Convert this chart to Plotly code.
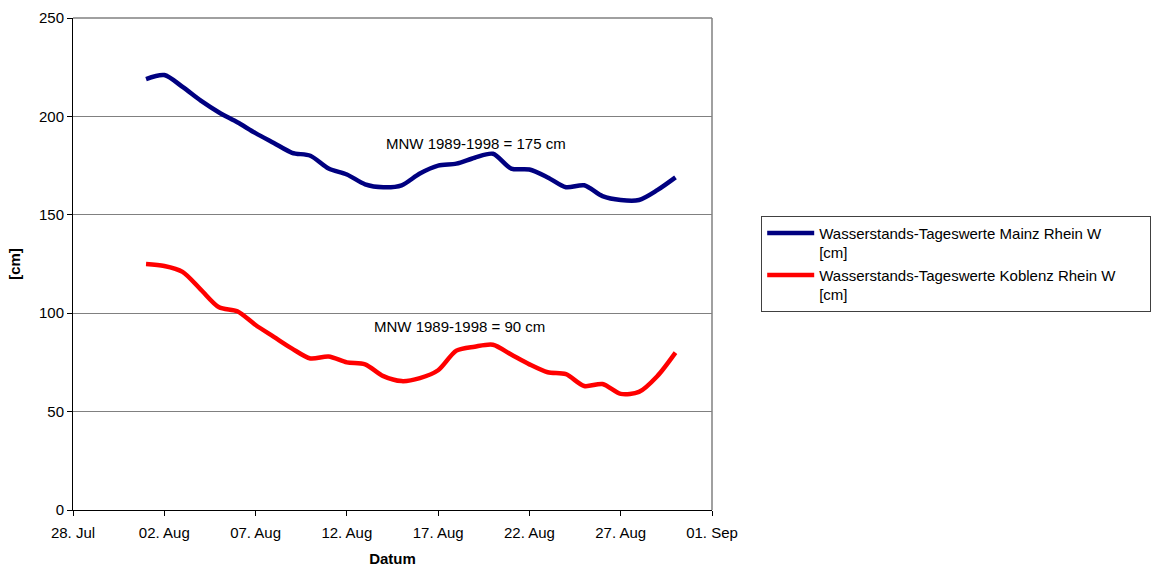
import plotly.graph_objects as go
import pandas as pd

# Daily water levels, August 2003
dates = pd.date_range("2003-08-01", "2003-08-30", freq="D")
mainz = [219, 221, 215, 208, 202, 197, 191.5, 186.5, 181.5, 180,
         173.5, 170.5, 165.5, 164, 165, 171, 175, 176, 179, 181,
         173.5, 173, 169, 164, 165, 159.5, 157.5, 157.5, 162.5, 169]
koblenz = [125, 124, 121, 112, 103, 101, 94, 88, 82, 77,
           78, 75, 74, 68, 65.5, 67, 71, 81, 83, 84,
           79, 74, 70, 69, 63, 64, 59, 60, 68, 80]

# trailing non-breaking spaces widen the legend box toward the right edge
pad = "\u00a0" * 7
names = ["Wasserstands-Tageswerte Mainz Rhein W<br>[cm]",
         "Wasserstands-Tageswerte Koblenz Rhein W" + pad + "<br>[cm]"]
colors = ["#000080", "#ff0000"]

font = "Liberation Sans, Arial, sans-serif"
fs = 15

fig = go.Figure()
for name, vals, col in zip(names, [mainz, koblenz], colors):
    fig.add_trace(go.Scatter(
        x=dates, y=vals, mode="lines", name=name,
        line=dict(color=col, width=4.5, shape="spline", smoothing=0.8),
    ))

fig.add_annotation(x="2003-08-19 02:00", y=186, text="MNW 1989-1998 = 175 cm",
                   showarrow=False, font=dict(size=fs, color="black", family=font))
fig.add_annotation(x="2003-08-18 04:00", y=93, text="MNW 1989-1998 = 90 cm",
                   showarrow=False, font=dict(size=fs, color="black", family=font))

fig.update_layout(
    width=1155, height=567,
    margin=dict(l=73, r=443, t=18, b=57, autoexpand=False),
    paper_bgcolor="white", plot_bgcolor="white",
    font=dict(family=font, size=fs, color="black"),
    showlegend=True,
    legend=dict(
        x=1.077, y=0.598, xanchor="left", yanchor="top",
        bordercolor="#404040", borderwidth=1, bgcolor="white",
        font=dict(size=fs, family=font), valign="top",
        itemwidth=47, tracegroupgap=7,
    ),
    xaxis=dict(
        range=["2003-07-28", "2003-09-01"],
        tick0="2003-07-28", dtick=5 * 86400000, tickformat="%d. %b",
        ticks="outside", ticklen=5, tickcolor="black",
        showline=True, linecolor="black", linewidth=1, mirror=False,
        showgrid=False, zeroline=False, automargin=False,
        ticklabelstandoff=4,
        title=dict(text="<b>Datum</b>", font=dict(size=fs, family=font), standoff=14),
        tickfont=dict(size=fs, family=font),
    ),
    yaxis=dict(
        range=[0, 250], tick0=0, dtick=50,
        ticks="outside", ticklen=5, tickcolor="black",
        showline=True, linecolor="black", linewidth=1,
        showgrid=True, gridcolor="#808080", gridwidth=1, zeroline=False,
        automargin=False,
        title=dict(text="<b>[cm]</b>", font=dict(size=fs, family=font), standoff=14),
        tickfont=dict(size=fs, family=font),
    ),
)

# gray frame on the top and right of the plotting area
fig.add_shape(type="line", xref="paper", yref="paper", x0=1, x1=1, y0=0, y1=1,
              line=dict(color="#808080", width=1.5))
fig.add_shape(type="line", xref="paper", yref="paper", x0=0, x1=1, y0=1, y1=1,
              line=dict(color="#808080", width=1.5))

fig.write_html("out.html")
